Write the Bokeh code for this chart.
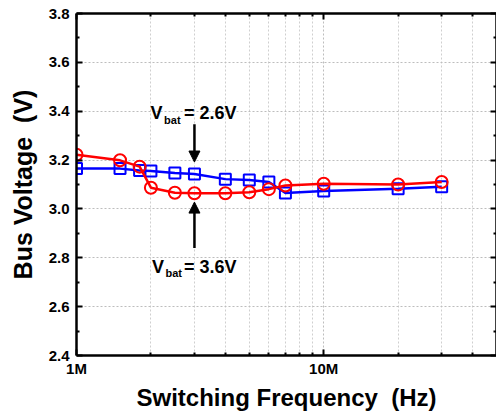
from bokeh.plotting import figure
from bokeh.models import (Range1d, FixedTicker, LogAxis, LinearAxis, Label, Arrow,
                          NormalHead, CustomJSTickFormatter)
from bokeh.embed import file_html
from bokeh.resources import INLINE

# ---- data ----
freq_hz = [1e6, 1.5e6, 1.8e6, 2e6, 2.5e6, 3e6, 4e6, 5e6, 6e6, 7e6, 10e6, 20e6, 30e6]
vbus_vbat_2p6 = [3.165, 3.165, 3.157, 3.155, 3.147, 3.143, 3.122, 3.118, 3.110, 3.065, 3.073, 3.083, 3.091]
vbus_vbat_3p6 = [3.222, 3.199, 3.173, 3.087, 3.066, 3.064, 3.064, 3.068, 3.081, 3.096, 3.103, 3.100, 3.110]

x_major = [1e6, 1e7]
x_minor = [2e6, 3e6, 4e6, 5e6, 6e6, 7e6, 8e6, 9e6, 2e7, 3e7, 4e7]
y_major = [2.4, 2.6, 2.8, 3.0, 3.2, 3.4, 3.6, 3.8]
y_minor = [2.5, 2.7, 2.9, 3.1, 3.3, 3.5, 3.7]

FONT = "Liberation Sans"

p = figure(width=496, height=414, x_axis_type="log",
           x_range=Range1d(1e6, 5e7), y_range=Range1d(2.4, 3.8),
           output_backend="svg", toolbar_location=None,
           min_border_left=76, min_border_right=0, min_border_top=13, min_border_bottom=59)
p.outline_line_color = None
p.background_fill_color = "white"
p.border_fill_color = "white"

xt = FixedTicker(ticks=x_major, minor_ticks=x_minor)
yt = FixedTicker(ticks=y_major, minor_ticks=y_minor)

def style_axis(ax):
    ax.axis_line_width = 2.5
    ax.axis_line_color = "black"
    ax.major_tick_in = 6
    ax.major_tick_out = 0
    ax.minor_tick_in = 3
    ax.minor_tick_out = 0
    ax.major_tick_line_width = 2
    ax.minor_tick_line_width = 2
    ax.major_tick_line_color = "black"
    ax.minor_tick_line_color = "black"
    ax.major_label_text_font = FONT
    ax.major_label_text_font_style = "bold"
    ax.major_label_text_font_size = "15px"
    ax.major_label_text_color = "black"
    ax.axis_label_text_font = FONT
    ax.axis_label_text_font_style = "bold"
    ax.axis_label_text_color = "black"

xa = p.xaxis[0]
xa.ticker = xt
xa.formatter = CustomJSTickFormatter(code="return Math.round(tick/1e6) + 'M';")
style_axis(xa)
xa.major_label_standoff = 4
xa.axis_label = "Switching Frequency \u00a0(Hz)"
xa.axis_label_text_font_size = "24px"
xa.axis_label_standoff = 4

ya = p.yaxis[0]
ya.ticker = yt
ya.formatter = CustomJSTickFormatter(code="return tick.toFixed(1);")
style_axis(ya)
ya.major_label_standoff = 7
ya.axis_label = "Bus Voltage \u00a0(V)"
ya.axis_label_text_font_size = "25px"
ya.axis_label_standoff = 9

blank = CustomJSTickFormatter(code="return '';")
top = LogAxis(ticker=xt, formatter=blank)
style_axis(top)
top.major_label_text_font_size = "0px"
top.major_label_standoff = 0
p.add_layout(top, "above")

right = LinearAxis(ticker=yt, formatter=blank)
style_axis(right)
right.major_label_text_font_size = "0px"
right.major_label_standoff = 0
p.add_layout(right, "right")

# grid
p.xgrid.ticker = xt
p.ygrid.ticker = yt
for g in (p.xgrid[0], p.ygrid[0]):
    g.grid_line_color = "#bdbdbd"
    g.grid_line_dash = "2 2"
    g.grid_line_width = 1
p.xgrid[0].minor_grid_line_color = "#cfcfcf"
p.xgrid[0].minor_grid_line_dash = "2 2"
p.xgrid[0].minor_grid_line_width = 1

# series
p.line(freq_hz, vbus_vbat_2p6, line_color="#0000ff", line_width=2.5)
p.scatter(freq_hz, vbus_vbat_2p6, marker="square", size=11, fill_color=None,
          line_color="#0000ff", line_width=2)
p.line(freq_hz, vbus_vbat_3p6, line_color="#ff0000", line_width=2.5)
p.scatter(freq_hz, vbus_vbat_3p6, marker="circle", size=12, fill_color=None,
          line_color="#ff0000", line_width=2)

# annotations
def vbat_label(x_v, x_sub, x_rest, y_base, y_sub, rest):
    p.add_layout(Label(x=x_v, y=y_base, text="V", text_font=FONT, text_font_style="bold",
                       text_font_size="18px", text_baseline="alphabetic", text_color="black"))
    p.add_layout(Label(x=x_sub, y=y_sub, text="bat", text_font=FONT, text_font_style="bold",
                       text_font_size="11px", text_baseline="alphabetic", text_color="black"))
    p.add_layout(Label(x=x_rest, y=y_base, text=rest, text_font=FONT, text_font_style="bold",
                       text_font_size="18px", text_baseline="alphabetic", text_color="black"))

vbat_label(1.99e6, 2.26e6, 2.72e6, 3.392, 3.363, "= 2.6V")
vbat_label(2.02e6, 2.29e6, 2.72e6, 2.762, 2.738, "= 3.6V")

p.add_layout(Arrow(x_start=3e6, y_start=3.347, x_end=3e6, y_end=3.192, line_width=2.5,
                   line_color="black",
                   end=NormalHead(size=11, fill_color="black", line_color="black", line_width=1)))
p.add_layout(Arrow(x_start=3e6, y_start=2.840, x_end=3e6, y_end=3.028, line_width=2.5,
                   line_color="black",
                   end=NormalHead(size=11, fill_color="black", line_color="black", line_width=1)))

open("out.html", "w").write(file_html(p, INLINE))
